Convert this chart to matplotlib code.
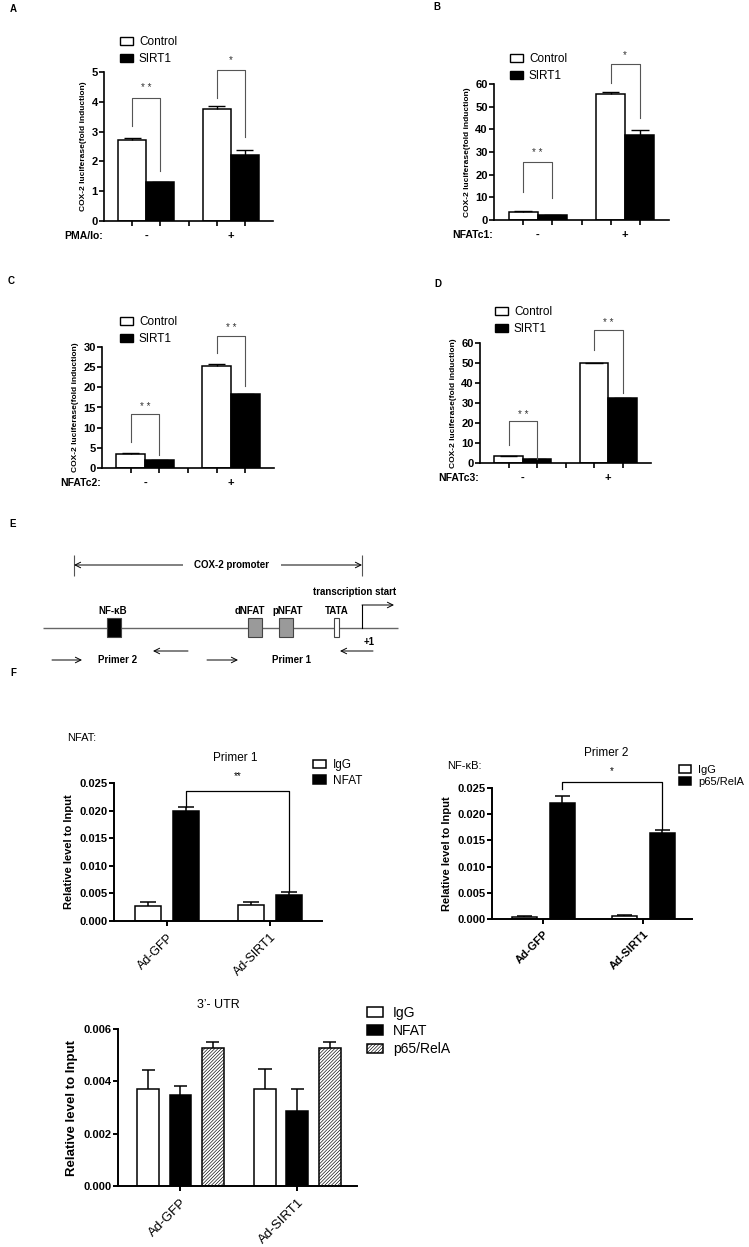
import numpy as np
import matplotlib
matplotlib.use("Agg")
import matplotlib.pyplot as plt
from matplotlib.patches import Patch, Rectangle

plt.rcParams['font.family'] = ['Liberation Sans', 'DejaVu Sans']
plt.rcParams['hatch.linewidth'] = 0.45

# ---- data: luciferase panels (A-D), groups "-" and "+"
ctrl_A = [2.72, 3.75]; ctrl_A_err = [0.08, 0.10]
sirt_A = [1.30, 2.22]; sirt_A_err = [0.02, 0.15]
ctrl_B = [3.5, 55.4]; ctrl_B_err = [0.3, 1.2]
sirt_B = [2.2, 37.6]; sirt_B_err = [0.2, 2.0]
ctrl_C = [3.5, 25.4]; ctrl_C_err = [0.1, 0.4]
sirt_C = [2.0, 18.3]; sirt_C_err = [0.1, 0.15]
ctrl_D = [3.4, 49.8]; ctrl_D_err = [0.1, 0.3]
sirt_D = [2.0, 32.3]; sirt_D_err = [0.1, 0.4]
# significance brackets: (left leg bottom, top, right leg bottom, star height)
brk_A = [(3.19, 4.12, 1.69, 4.45), (4.12, 5.07, 2.83, 5.4)]
brk_B = [(12.5, 25.7, 9.6, 29.5), (60.3, 69.0, 44.9, 72.6)]
brk_C = [(6.5, 13.3, 3.2, 15.1), (28.5, 32.8, 20.4, 34.6)]
brk_D = [(9.2, 20.8, 2.0, 24.0), (56.7, 66.3, 35.0, 70.0)]
stars_A = ['* *', '*']; stars_B = ['* *', '*']
stars_C = ['* *', '* *']; stars_D = ['* *', '* *']

# ---- data: ChIP panels (F)
chip_groups = ['Ad-GFP', 'Ad-SIRT1']
p1_igg = [0.0028, 0.0029]; p1_igg_err = [0.0006, 0.0005]
p1_nfat = [0.0199, 0.00465]; p1_nfat_err = [0.0007, 0.0006]
p2_igg = [0.0004, 0.0006]; p2_igg_err = [0.0001, 0.0001]
p2_p65 = [0.0222, 0.01645]; p2_p65_err = [0.0013, 0.0006]
utr_igg = [0.0037, 0.0037]; utr_igg_err = [0.00074, 0.00078]
utr_nfat = [0.00349, 0.00288]; utr_nfat_err = [0.00033, 0.00082]
utr_p65 = [0.00526, 0.00528]; utr_p65_err = [0.00023, 0.00021]

W, H = 749, 1247
fig = plt.figure(figsize=(W / 100, H / 100), dpi=100)


def box(l, r, t, b):
    return [l / W, 1 - b / H, (r - l) / W, (b - t) / H]


def err_up(ax, xs, vals, errs, cw, lw=1.0):
    for x, v, e in zip(xs, vals, errs):
        ax.vlines(x, v, v + e, color='black', lw=lw)
        ax.hlines(v + e, x - cw, x + cw, color='black', lw=lw)


def style(ax, lw=1.3):
    for s in ['top', 'right']:
        ax.spines[s].set_visible(False)
    for s in ['left', 'bottom']:
        ax.spines[s].set_linewidth(lw)
    ax.tick_params(direction='out', length=3.5, width=lw)


ov = fig.add_axes([0, 0, 1, 1])
ov.set_xlim(0, W); ov.set_ylim(H, 0); ov.axis('off')


def lucif(rect, ymax, step, ctrl, ce, sirt, se, brk, stars, xname, leg_xy):
    ax = fig.add_axes(rect)
    xc, xs = [0, 3], [1, 4]
    ax.bar(xc, ctrl, width=1, color='white', edgecolor='black', lw=1.1)
    ax.bar(xs, sirt, width=1, color='black', edgecolor='black', lw=1.1)
    err_up(ax, xc, ctrl, ce, 0.3)
    err_up(ax, xs, sirt, se, 0.3)
    ax.set_xlim(-1, 5); ax.set_ylim(0, ymax)
    ax.set_xticks(range(5)); ax.set_xticklabels([])
    ax.set_yticks(np.arange(0, ymax + step / 2, step))
    style(ax, 1.2)
    ax.tick_params(labelsize=8, pad=1)
    for t in ax.get_yticklabels():
        t.set_fontweight('bold')
    ax.set_ylabel('COX-2 luciferase(fold induction)', fontsize=6, fontweight='bold', labelpad=3)
    for i, (l, t, r, sy) in enumerate(brk):
        ax.plot([xc[i], xc[i], xs[i], xs[i]], [l, t, t, r], color='#555555', lw=0.8, clip_on=False)
        ax.text((xc[i] + xs[i]) / 2, sy, stars[i], ha='center', va='center', fontsize=7, color='#333333')
    for x, g in zip([0.5, 3.5], ['-', '+']):
        ax.annotate(g, xy=(x, 0), xycoords=('data', 'axes fraction'), xytext=(0, -11),
                    textcoords='offset points', ha='center', va='center', fontsize=8, fontweight='bold')
    ax.annotate(xname, xy=(-1, 0), xycoords=('data', 'axes fraction'), xytext=(-1, -11),
                textcoords='offset points', ha='right', va='center', fontsize=7.5, fontweight='bold')
    h = [Patch(facecolor='white', edgecolor='black', lw=1), Patch(facecolor='black', edgecolor='black')]
    ax.legend(h, ['Control', 'SIRT1'], loc='upper left', bbox_to_anchor=(leg_xy[0] / W, 1 - leg_xy[1] / H),
              bbox_transform=fig.transFigure, frameon=False, fontsize=8.5, handlelength=1.1,
              handleheight=0.7, handletextpad=0.5, borderpad=0, labelspacing=0.45, borderaxespad=0)
    return ax


lucif(box(104, 273, 72, 221), 5, 1, ctrl_A, ctrl_A_err, sirt_A, sirt_A_err, brk_A, stars_A, 'PMA/Io:', (120, 36))
lucif(box(494, 669, 84, 220), 60, 10, ctrl_B, ctrl_B_err, sirt_B, sirt_B_err, brk_B, stars_B, 'NFATc1:', (510, 53))
lucif(box(102, 274, 347, 468), 30, 5, ctrl_C, ctrl_C_err, sirt_C, sirt_C_err, brk_C, stars_C, 'NFATc2:', (120, 316))
lucif(box(480, 651, 343, 463), 60, 10, ctrl_D, ctrl_D_err, sirt_D, sirt_D_err, brk_D, stars_D, 'NFATc3:', (495, 306))


def chip(rect, series, offs, width, ylim, step, xlim, lbl_bold, lbl_size, tick_size, ylab_size):
    ax = fig.add_axes(rect)
    x = np.arange(len(chip_groups))
    for (vals, errs, fc, hatch, lab), o in zip(series, offs):
        ax.bar(x + o, vals, width=width, color=fc, edgecolor='black', lw=1.1, hatch=hatch, label=lab)
        err_up(ax, x + o, vals, errs, width * 0.3, lw=1.1)
    ax.set_xlim(*xlim); ax.set_ylim(0, ylim)
    ax.set_yticks(np.arange(0, ylim + step / 2, step))
    ax.yaxis.set_major_formatter(plt.FormatStrFormatter('%.3f'))
    ax.set_xticks(x)
    ax.set_xticklabels(chip_groups, rotation=45, ha='right', rotation_mode='anchor',
                       fontsize=lbl_size, fontweight='bold' if lbl_bold else 'normal')
    style(ax, 1.4)
    ax.tick_params(axis='y', labelsize=tick_size, pad=1)
    ax.tick_params(axis='x', pad=4)
    for t in ax.get_yticklabels():
        t.set_fontweight('bold')
    ax.set_ylabel('Relative level to Input', fontsize=ylab_size, fontweight='bold', labelpad=4)
    return ax


a1 = chip(box(114, 322, 783, 921),
          [(p1_igg, p1_igg_err, 'white', None, 'IgG'), (p1_nfat, p1_nfat_err, 'black', None, 'NFAT')],
          [-0.185, 0.185], 0.25, 0.025, 0.005, (-0.515, 1.505), False, 9, 8, 8)
a1.plot([0.185, 0.185, 1.185, 1.185], [0.0206, 0.0236, 0.0236, 0.0054], color='black', lw=0.9, clip_on=False)
a1.text(0.685, 0.0262, '**', ha='center', va='center', fontsize=7)
a1.legend(loc='upper left', bbox_to_anchor=(313 / W, 1 - 759 / H), bbox_transform=fig.transFigure,
          frameon=False, fontsize=8.5, handlelength=1.1, handleheight=0.7, handletextpad=0.6,
          borderpad=0, labelspacing=0.3, borderaxespad=0)

a2 = chip(box(492, 692, 788, 919),
          [(p2_igg, p2_igg_err, 'white', None, 'IgG'), (p2_p65, p2_p65_err, 'black', None, 'p65/RelA')],
          [-0.19, 0.19], 0.25, 0.025, 0.005, (-0.51, 1.49), True, 8, 8, 8)
a2.plot([0.19, 0.19, 1.19, 1.19], [0.0249, 0.0261, 0.0261, 0.0171], color='black', lw=0.9, clip_on=False)
a2.text(0.69, 0.0282, '*', ha='center', va='center', fontsize=7)
a2.legend(loc='upper left', bbox_to_anchor=(679 / W, 1 - 765 / H), bbox_transform=fig.transFigure,
          frameon=False, fontsize=8, handlelength=1.1, handleheight=0.7, handletextpad=0.6,
          borderpad=0, labelspacing=0.15, borderaxespad=0)

a3 = chip(box(118, 357, 1029, 1186),
          [(utr_igg, utr_igg_err, 'white', None, 'IgG'), (utr_nfat, utr_nfat_err, 'black', None, 'NFAT'),
           (utr_p65, utr_p65_err, 'white', '//////////', 'p65/RelA')],
          [-0.277, 0, 0.277], 0.186, 0.006, 0.002, (-0.534, 1.51), False, 9.5, 8, 9.5)
a3.legend(loc='upper left', bbox_to_anchor=(367 / W, 1 - 1006 / H), bbox_transform=fig.transFigure,
          frameon=False, fontsize=10, handlelength=1.15, handleheight=0.7, handletextpad=0.7,
          borderpad=0, labelspacing=0.3, borderaxespad=0)

# ---- panel letters and free text
for lt, x, y in [('A', 13, 9), ('B', 437, 7), ('C', 11, 281), ('D', 438, 284), ('E', 13, 524), ('F', 13, 673)]:
    ov.text(x, y, lt, fontsize=7, fontweight='bold', ha='center', va='center')
ov.text(235, 758, 'Primer 1', fontsize=8.5, ha='center', va='center')
ov.text(67, 738, 'NFAT:', fontsize=8, ha='left', va='center')
ov.text(606, 753, 'Primer 2', fontsize=8.5, ha='center', va='center')
ov.text(447, 766, 'NF-κB:', fontsize=8, ha='left', va='center')
ov.text(218, 1005, '3’- UTR', fontsize=9, ha='center', va='center')

# ---- panel E: promoter schematic (pixel coordinates)
ap = dict(arrowstyle='->', lw=0.7, color='black', shrinkA=0, shrinkB=0)
ov.annotate('', xy=(74, 565), xytext=(232, 565), arrowprops=ap)
ov.annotate('', xy=(362, 565), xytext=(232, 565), arrowprops=ap)
ov.vlines([74, 362], 555, 576, color='#555555', lw=0.8)
ov.text(232, 565, 'COX-2 promoter', fontsize=7, fontweight='bold', ha='center', va='center',
        bbox=dict(facecolor='white', edgecolor='none', pad=8))
ov.hlines(628, 43, 398, color='#666666', lw=1.0)
for lab, x0, x1, fc in [('NF-κB', 107, 121, 'black'), ('dNFAT', 248, 262, '#9a9a9a'),
                        ('pNFAT', 279, 293, '#9a9a9a'), ('TATA', 334, 339, 'white')]:
    ov.add_patch(Rectangle((x0, 618), x1 - x0, 19, facecolor=fc, edgecolor='#444444', lw=0.8, zorder=3))
ov.text(113, 611, 'NF-κB', fontsize=7, fontweight='bold', ha='center', va='center')
ov.text(250, 611, 'dNFAT', fontsize=7, fontweight='bold', ha='center', va='center')
ov.text(288, 611, 'pNFAT', fontsize=7, fontweight='bold', ha='center', va='center')
ov.text(337, 611, 'TATA', fontsize=7, fontweight='bold', ha='center', va='center')
ov.plot([362, 362], [628, 605], color='black', lw=0.8)
ov.annotate('', xy=(394, 605), xytext=(362, 605), arrowprops=ap)
ov.text(355, 592, 'transcription start', fontsize=7, fontweight='bold', ha='center', va='center')
ov.text(369, 642, '+1', fontsize=7, fontweight='bold', ha='center', va='center')
for xa, xb, y in [(52, 82, 660), (188, 153, 651), (207, 238, 660), (373, 340, 651)]:
    ov.annotate('', xy=(xb, y), xytext=(xa, y), arrowprops=ap)
ov.text(118, 660, 'Primer 2', fontsize=7, fontweight='bold', ha='center', va='center')
ov.text(291, 660, 'Primer 1', fontsize=7, fontweight='bold', ha='center', va='center')

fig.savefig('out.png', dpi=100)
